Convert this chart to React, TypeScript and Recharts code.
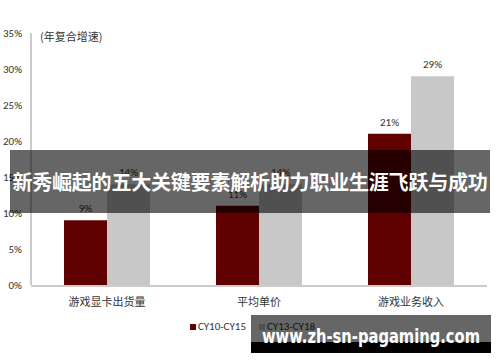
import React from 'react';
import { BarChart, Bar, XAxis, YAxis, LabelList } from 'recharts';

const categories = ['游戏显卡出货量', '平均单价', '游戏业务收入'];
const cy1015 = [9, 11, 21];
const cy1318 = [14, 14, 29];
const seriesNames = ['CY10-CY15', 'CY13-CY18'];
const seriesColors = ['#600000', '#c8c8c8'];
const yTicks = [0, 5, 10, 15, 20, 25, 30, 35];
const boundaryTicks = [0, 1, 2, 3];
const annotation = '(年复合增速)';
const bannerText = '新秀崛起的五大关键要素解析助力职业生涯飞跃与成功';
const watermark = 'www.zh-sn-pagaming.com';

const data = categories.map((c, i) => ({ name: c, a: cy1015[i], b: cy1318[i] }));

const FONT = 'Calibri, "Liberation Sans", "Noto Sans CJK SC", sans-serif';
const CJK = '"Noto Sans CJK SC", sans-serif';

const LegendContent = () => (
  <div style={{ display: 'flex', justifyContent: 'center', fontFamily: FONT, fontSize: 11, color: '#333', paddingLeft: 18 }}>
    {seriesNames.map((n, i) => (
      <div key={n} style={{ display: 'flex', alignItems: 'center', marginRight: 13 }}>
        <span style={{ display: 'inline-block', width: 6, height: 6, background: seriesColors[i], marginRight: 2 }} />
        <span>{n}</span>
      </div>
    ))}
  </div>
);

export default function App() {
  return (
    <div style={{ position: 'absolute', left: 0, top: 0, width: 500, height: 362, background: '#fff', overflow: 'hidden' }}>
      <BarChart width={500} height={362} data={data} margin={{ top: 33, right: 13, bottom: 46, left: 0 }} barGap={0}>
        <XAxis
          dataKey="name"
          xAxisId="cat"
          tickLine={false}
          axisLine={{ stroke: '#999' }}
          tick={{ fontSize: 11, fill: '#333', fontFamily: CJK }}
          tickMargin={6}
          interval={0}
          height={30}
        />
        <XAxis
          xAxisId="bnd"
          type="number"
          domain={[0, 3]}
          ticks={boundaryTicks}
          axisLine={false}
          tickLine={{ stroke: '#999' }}
          tickSize={4}
          tick={false}
          height={1}
        />
        <YAxis
          width={31}
          domain={[0, 35]}
          ticks={yTicks}
          tickFormatter={(v: number) => `${v}%`}
          tickLine={false}
          tickSize={0}
          tickMargin={9}
          axisLine={{ stroke: '#999' }}
          tick={{ fontSize: 11, fill: '#333', fontFamily: FONT }}
        />
        <Bar dataKey="a" xAxisId="cat" fill={seriesColors[0]} barSize={43} isAnimationActive={false}>
          <LabelList dataKey="a" position="top" offset={8} formatter={(v: number) => `${v}%`} style={{ fontSize: 11, fill: '#333', fontFamily: FONT }} />
        </Bar>
        <Bar dataKey="b" xAxisId="cat" fill={seriesColors[1]} barSize={43} isAnimationActive={false}>
          <LabelList dataKey="b" position="top" offset={8} formatter={(v: number) => `${v}%`} style={{ fontSize: 11, fill: '#333', fontFamily: FONT }} />
        </Bar>
      </BarChart>
      <div style={{ position: 'absolute', left: 0, top: 320, width: 500 }}>
        <LegendContent />
      </div>
      <div style={{ position: 'absolute', left: 40, top: 28, fontFamily: CJK, fontSize: 11, color: '#333' }}>{annotation}</div>
      <div style={{ position: 'absolute', left: 10, top: 150, width: 480, height: 63, background: 'rgba(0,0,0,0.6)', color: '#fff', fontFamily: CJK, fontWeight: 700, fontSize: 20, lineHeight: '63px', textAlign: 'center', whiteSpace: 'nowrap', letterSpacing: -0.2 }}>
        {bannerText}
      </div>
      <svg style={{ position: 'absolute', left: 251, top: 315 }} width={240} height={38}>
        <rect x={0} y={0} width={240} height={27} fill="rgba(0,0,0,0.6)" />
        <rect x={0} y={27} width={240} height={11} fill="#000" />
        <text x={11} y={28} fill="#fff" fontFamily='"DejaVu Sans", sans-serif' fontWeight={700} fontSize={19} textLength={218} lengthAdjust="spacingAndGlyphs">
          {watermark}
        </text>
      </svg>
    </div>
  );
}
